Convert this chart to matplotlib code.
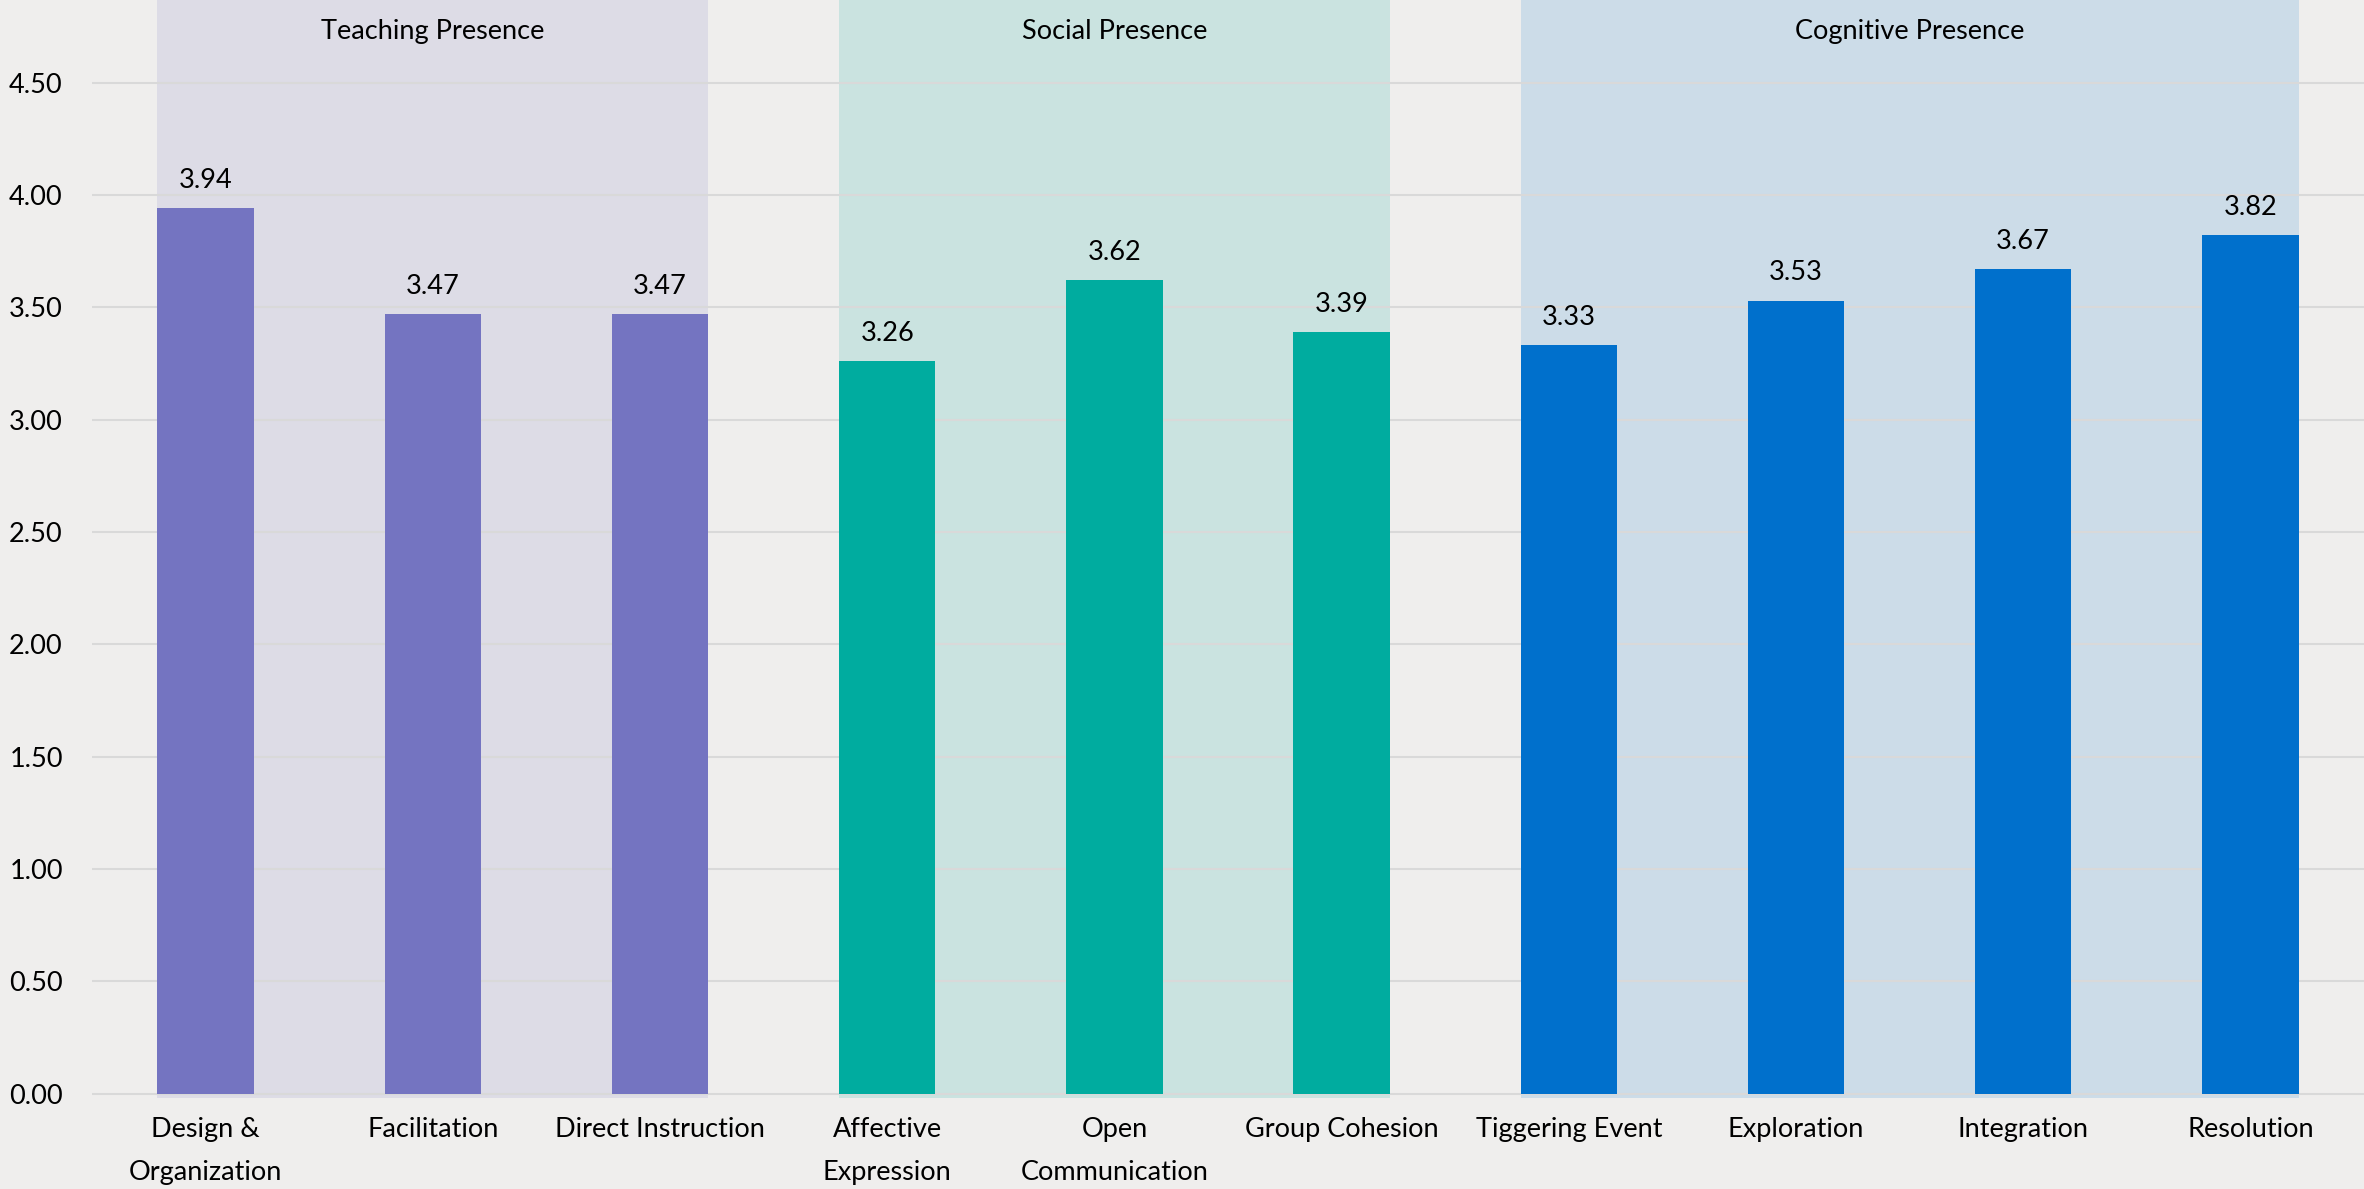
import numpy as np
import matplotlib
matplotlib.use('Agg')
import matplotlib.pyplot as plt

plt.rcParams['font.family'] = ['Lato', 'DejaVu Sans']

# data
categories = ['Design &\nOrganization', 'Facilitation', 'Direct Instruction',
              'Affective\nExpression', 'Open\nCommunication', 'Group Cohesion',
              'Tiggering Event', 'Exploration', 'Integration', 'Resolution']
values = [3.94, 3.47, 3.47, 3.26, 3.62, 3.39, 3.33, 3.53, 3.67, 3.82]
groups = ['Teaching Presence', 'Social Presence', 'Cognitive Presence']
group_members = [[0, 1, 2], [3, 4, 5], [6, 7, 8, 9]]
yticks = [0.0, 0.5, 1.0, 1.5, 2.0, 2.5, 3.0, 3.5, 4.0, 4.5]

bar_colors = ['#7474C1', '#00AC9F', '#0070CC']
shade_colors = ['#DDDCE6', '#CAE3E0', '#CCDCE8']
bg = '#EFEEED'
fs = 19.5

fig = plt.figure(figsize=(23.64, 11.89), dpi=100, facecolor=bg)
ax = fig.add_axes([92 / 2364, (1189 - 1097.6) / 1189, 1 - 92 / 2364, 1097.6 / 1189])
ax.set_facecolor(bg)

ymin, ymax = -0.018, 4.868
width = 0.424
x = np.arange(len(categories))

for g, members in enumerate(group_members):
    left = members[0] - width / 2
    right = members[-1] + width / 2
    ax.bar((left + right) / 2, ymax - ymin, width=right - left, bottom=ymin,
           color=shade_colors[g], zorder=0)
    ax.text((left + right) / 2, 4.73, groups[g], ha='center', va='center',
            fontsize=fs, color='black')
    for i in members:
        ax.bar(x[i], values[i], width=width, color=bar_colors[g], zorder=3)
        ax.annotate(f'{values[i]:.2f}', (x[i], values[i]), xytext=(0, 11),
                    textcoords='offset points', ha='center', va='bottom',
                    fontsize=fs, color='black')

for t in yticks:
    ax.axhline(t, color='#D9D9D9', lw=1.5, zorder=1)

ax.set_xlim(-0.5, 9.5)
ax.set_ylim(ymin, ymax)
ax.set_yticks(yticks)
ax.set_yticklabels([f'{t:.2f}' for t in yticks], fontsize=fs)
ax.set_xticks(x)
ax.set_xticklabels(categories, fontsize=fs, linespacing=1.9)
ax.tick_params(axis='both', length=0)
ax.tick_params(axis='x', pad=14)
ax.tick_params(axis='y', pad=21)
for s in ax.spines.values():
    s.set_visible(False)

fig.savefig('out.png', dpi=100, facecolor=bg)
